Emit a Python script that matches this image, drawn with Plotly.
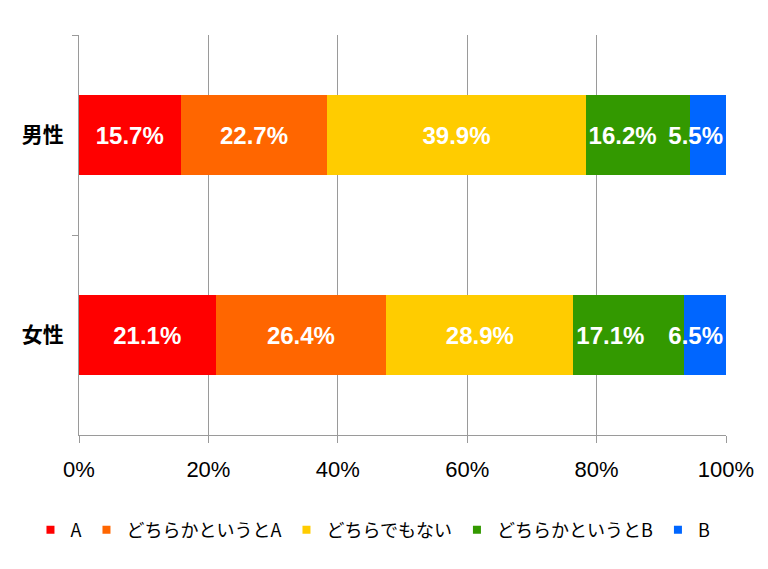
import plotly.graph_objects as go

categories = ["男性", "女性"]
series_names = ["A", "どちらかというとA", "どちらでもない", "どちらかというとB", "B"]
values_male = [15.7, 22.7, 39.9, 16.2, 5.5]
values_female = [21.1, 26.4, 28.9, 17.1, 6.5]
colors = ["#FF0000", "#FF6600", "#FFCC00", "#339900", "#0066FF"]
label_anchor = ["middle", "middle", "middle", "start", "end"]
x_ticks = [0, 20, 40, 60, 80, 100]
x_tick_labels = ["0%", "20%", "40%", "60%", "80%", "100%"]

LATIN = "Liberation Sans, Arial, sans-serif"
CJK = "Noto Sans CJK JP, sans-serif"

fig = go.Figure()
for i, name in enumerate(series_names):
    fig.add_trace(go.Bar(
        y=categories,
        x=[values_male[i], values_female[i]],
        orientation="h",
        name=name,
        marker=dict(color=colors[i], line=dict(width=0)),
        width=0.4,
        texttemplate="%{x:.1f}%",
        textposition="inside",
        insidetextanchor=label_anchor[i],
        textangle=0,
        textfont=dict(color="white", size=24, family=LATIN, weight="bold"),
        showlegend=False,
        hoverinfo="skip",
    ))
# legend entries with small square markers
for i, name in enumerate(series_names):
    fig.add_trace(go.Scatter(
        x=[None], y=[None], mode="markers", name=name,
        marker=dict(symbol="square", size=8, color=colors[i]),
        showlegend=True,
    ))

fig.update_layout(
    barmode="stack",
    width=768, height=569,
    margin=dict(l=79, r=42, t=35, b=134, autoexpand=False),
    paper_bgcolor="white",
    plot_bgcolor="white",
    uniformtext=dict(minsize=24, mode="show"),
    legend=dict(
        orientation="h", x=-0.075, xanchor="left",
        y=-0.2375, yanchor="middle",
        font=dict(family=CJK, size=18, color="black"),
        itemwidth=30, traceorder="normal",
    ),
    xaxis=dict(
        range=[0, 100], tickvals=x_ticks, ticktext=x_tick_labels,
        showgrid=True, gridcolor="#9A9A9A", gridwidth=1,
        showline=True, linecolor="#9A9A9A", linewidth=1,
        ticks="outside", ticklen=7, tickcolor="#9A9A9A",
        tickfont=dict(family=LATIN, size=22, color="black"),
        ticklabelstandoff=8,
        zeroline=False, fixedrange=True,
    ),
    yaxis=dict(
        categoryorder="array", categoryarray=categories,
        range=[1.5, -0.5],
        showline=True, linecolor="#9A9A9A", linewidth=1,
        ticks="outside", tickson="boundaries", ticklen=6, tickcolor="#9A9A9A",
        tickfont=dict(family=CJK, size=21, color="black", weight="bold"),
        ticklabelstandoff=10,
        showgrid=False, zeroline=False, fixedrange=True,
    ),
)

fig.write_html("out.html")
